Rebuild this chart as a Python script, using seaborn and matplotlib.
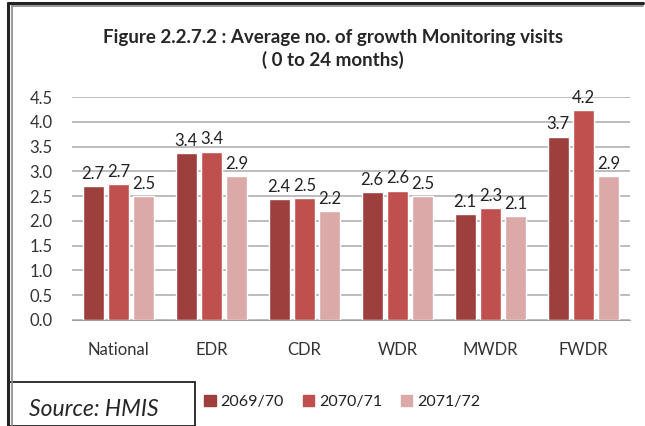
import matplotlib
matplotlib.use("Agg")
import matplotlib.pyplot as plt
import matplotlib.patches as mpatches
import matplotlib.lines as mlines
import pandas as pd
import seaborn as sns

regions = ["National", "EDR", "CDR", "WDR", "MWDR", "FWDR"]
years = ["2069/70", "2070/71", "2071/72"]
v_2069 = [2.71, 3.37, 2.44, 2.58, 2.14, 3.70]
v_2070 = [2.74, 3.40, 2.46, 2.61, 2.26, 4.24]
v_2071 = [2.50, 2.90, 2.20, 2.50, 2.10, 2.90]
colors = ["#9C3F3D", "#C0504D", "#DBA9A8"]

df = pd.DataFrame({
    "region": regions * 3,
    "year": [y for y in years for _ in regions],
    "value": v_2069 + v_2070 + v_2071,
})

sns.set_style("white")
plt.rcParams["font.family"] = ["Lato", "DejaVu Sans"]

fig = plt.figure(figsize=(6.45, 4.26), dpi=100)
ax = fig.add_axes([72 / 645, 1 - 320 / 426, (630 - 72) / 645, (320 - 97) / 426])

sns.barplot(data=df, x="region", y="value", hue="year", palette=colors,
            width=0.82, gap=0.17, ax=ax, legend=False, saturation=1)

for cont in ax.containers:
    ax.bar_label(cont, fmt="%.1f", padding=3, fontsize=12, color="#222222")

ax.set_ylim(0, 4.5)
ax.set_yticks([i * 0.5 for i in range(10)])
ax.set_yticklabels([f"{i * 0.5:.1f}" for i in range(10)])
ax.set_xlim(-0.5, 5.5)
ax.yaxis.grid(True, color="#B0B0B0", linewidth=1.2)
ax.set_axisbelow(True)
for s in ["left", "right", "top"]:
    ax.spines[s].set_visible(False)
ax.spines["bottom"].set_color("#A0A0A0")
ax.tick_params(axis="y", length=0, pad=14, labelsize=12, labelcolor="#333333")
ax.tick_params(axis="x", length=0, pad=16, labelsize=12, labelcolor="#333333")
ax.set_xlabel("")
ax.set_ylabel("")

fig.text(0.516, 1 - 37 / 426, "Figure 2.2.7.2 : Average no. of growth Monitoring visits",
         ha="center", va="center", fontsize=13.5, fontweight="bold")
fig.text(0.516, 1 - 60 / 426, "( 0 to 24 months)",
         ha="center", va="center", fontsize=13.5, fontweight="bold")

# outer frame (double line look)
fig.add_artist(mlines.Line2D([8 / 645, 8 / 645], [0, 1 - 3 / 426], color="#222222", lw=2.2))
fig.add_artist(mlines.Line2D([11.5 / 645, 11.5 / 645], [0, 1 - 6 / 426], color="#888888", lw=1.2))
fig.add_artist(mlines.Line2D([8 / 645, 643 / 645], [1 - 3 / 426, 1 - 3 / 426], color="#222222", lw=2.2))
fig.add_artist(mlines.Line2D([11.5 / 645, 643 / 645], [1 - 6 / 426, 1 - 6 / 426], color="#888888", lw=1.2))

# source box
fig.add_artist(mpatches.Rectangle((8 / 645, 0), (195 - 8) / 645, (426 - 382) / 426,
                                  transform=fig.transFigure, facecolor="white",
                                  edgecolor="#222222", lw=1.3))
fig.text(29 / 645, 1 - 409 / 426, "Source: HMIS", ha="left", va="center",
         fontsize=16.5, style="italic")

handles = [mpatches.Patch(color=c, label=y) for c, y in zip(colors, years)]
fig.legend(handles=handles, loc="center left", bbox_to_anchor=(190 / 645, 1 - 402 / 426),
           ncol=3, frameon=False, fontsize=11.5, handlelength=0.7, handleheight=0.7,
           handletextpad=0.3, columnspacing=1.2, labelcolor="#222222")

fig.savefig("out.png", dpi=100)
